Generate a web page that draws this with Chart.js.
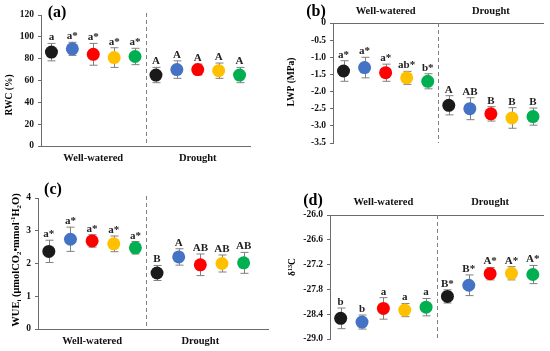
<!DOCTYPE html>
<html>
<head>
<meta charset="utf-8">
<script src="https://cdn.jsdelivr.net/npm/chart.js@4/dist/chart.umd.min.js"></script>
<style>
    body { margin: 0; background: #fff; }
    #wrap { position: relative; width: 550px; height: 351px; }
    canvas { position: absolute; }
</style>
</head>
<body>
<div id="wrap">
    <canvas id="panelA" width="275" height="175" style="left:0;top:0"></canvas>
    <canvas id="panelB" width="275" height="175" style="left:275px;top:0"></canvas>
    <canvas id="panelC" width="275" height="176" style="left:0;top:175px"></canvas>
    <canvas id="panelD" width="275" height="176" style="left:275px;top:175px"></canvas>
</div>
<script>
var groups = ['Well-watered', 'Drought'];

// five treatments under well-watered, then the same five under drought
var rwcMean = [86, 89, 84, 81, 82, 65, 70, 70, 69, 65];
var rwcErr = [8, 6, 10, 9, 7.5, 7, 8, 5, 7, 7];
var rwcSig = ['a', 'a*', 'a*', 'a*', 'a*', 'A', 'A', 'A', 'A', 'A'];

var lwpMean = [-1.4, -1.3, -1.45, -1.6, -1.7, -2.4, -2.5, -2.65, -2.77, -2.73];
var lwpErr = [0.3, 0.3, 0.25, 0.19, 0.22, 0.28, 0.32, 0.21, 0.3, 0.25];
var lwpSig = ['a*', 'a*', 'a*', 'ab*', 'b*', 'A', 'AB', 'B', 'B', 'B'];

var wueMean = [2.37, 2.74, 2.69, 2.6, 2.48, 1.71, 2.2, 1.96, 2.0, 2.02];
var wueErr = [0.34, 0.37, 0.19, 0.24, 0.19, 0.23, 0.25, 0.33, 0.26, 0.32];
var wueSig = ['a*', 'a*', 'a*', 'a*', 'a*', 'B', 'A', 'AB', 'AB', 'AB'];

var d13cMean = [-28.5, -28.59, -28.26, -28.3, -28.23, -27.97, -27.7, -27.42, -27.41, -27.44];
var d13cErr = [0.25, 0.17, 0.26, 0.16, 0.21, 0.16, 0.25, 0.15, 0.16, 0.22];
var d13cSig = ['b', 'b', 'a', 'a', 'a', 'B*', 'B*', 'A*', 'A*', 'A*'];

var dotColors = ['#1a1a1a', '#4472c4', '#ff0000', '#ffc000', '#00b050'];
var axisColor = '#6b6b6b';
var barColor = '#808080';
var serif = '"Liberation Serif", "Times New Roman", serif';

// draws text made of normal / sub / sup pieces, centred on (0,0)
function drawRich(ctx, parts, size) {
    var total = 0;
    parts.forEach(function (p) {
        ctx.font = 'bold ' + (p[1] ? size * 0.65 : size) + 'px ' + serif;
        total += ctx.measureText(p[0]).width;
    });
    var x = -total / 2;
    parts.forEach(function (p) {
        var s = p[1] ? size * 0.65 : size;
        ctx.font = 'bold ' + s + 'px ' + serif;
        var dy = p[1] === 1 ? size * 0.25 : (p[1] === 2 ? -size * 0.38 : 0);
        ctx.fillText(p[0], x, size * 0.35 + dy);
        x += ctx.measureText(p[0]).width;
    });
}

function makePanel(id, opt) {
    var ctx = document.getElementById(id).getContext('2d');
    var pts = opt.mean.map(function (v, i) { return { x: i + 0.5, y: v }; });

    var panelPlugin = {
        id: 'panelDecor',
        beforeDatasetsDraw: function (chart) {
            var c = chart.ctx, xs = chart.scales.x, ys = chart.scales.y, area = chart.chartArea;
            c.save();
            // divider between the two water regimes
            c.strokeStyle = barColor;
            c.lineWidth = 1;
            c.setLineDash([4, 3]);
            var xm = Math.round(xs.getPixelForValue(5)) + 0.5;
            c.beginPath();
            c.moveTo(xm, area.top - opt.dashUp);
            c.lineTo(xm, area.bottom);
            c.stroke();
            c.setLineDash([]);
            // error bars
            opt.mean.forEach(function (v, i) {
                var x = Math.round(xs.getPixelForValue(i + 0.5)) + 0.5;
                var yt = ys.getPixelForValue(v + opt.err[i]);
                var yb = ys.getPixelForValue(v - opt.err[i]);
                c.beginPath();
                c.moveTo(x, yt); c.lineTo(x, yb);
                c.moveTo(x - 4, yt); c.lineTo(x + 4, yt);
                c.moveTo(x - 4, yb); c.lineTo(x + 4, yb);
                c.stroke();
            });
            c.restore();
        },
        afterDatasetsDraw: function (chart) {
            var c = chart.ctx, xs = chart.scales.x, ys = chart.scales.y;
            c.save();
            c.fillStyle = '#222';
            c.font = 'bold 11px ' + serif;
            c.textAlign = 'center';
            c.textBaseline = 'alphabetic';
            opt.mean.forEach(function (v, i) {
                var x = xs.getPixelForValue(i + 0.5);
                var yt = ys.getPixelForValue(v + opt.err[i]);
                c.fillText(opt.sig[i], x, yt - 3);
            });
            c.restore();
        },
        afterDraw: function (chart) {
            var c = chart.ctx;
            c.save();
            c.fillStyle = '#000';
            c.textAlign = 'center';
            c.textBaseline = 'middle';
            c.font = 'bold 16px ' + serif;
            c.fillText(opt.tag, opt.tagX, opt.tagY);
            c.textBaseline = 'alphabetic';
            c.textAlign = 'left';
            c.translate(opt.titleX, opt.titleY);
            c.rotate(-Math.PI / 2);
            drawRich(c, opt.title, opt.titleSize);
            c.restore();
        }
    };

    return new Chart(ctx, {
        type: 'scatter',
        data: {
            datasets: [{
                data: pts,
                pointRadius: 6.5,
                pointHoverRadius: 6.5,
                pointBorderWidth: 0,
                pointBackgroundColor: opt.mean.map(function (v, i) { return dotColors[i % 5]; })
            }]
        },
        options: {
            responsive: false,
            animation: false,
            events: [],
            layout: { padding: opt.pad },
            plugins: {
                legend: { display: false },
                tooltip: { enabled: false }
            },
            scales: {
                x: {
                    type: 'linear',
                    position: opt.xPos,
                    min: 0,
                    max: opt.xMax,
                    afterFit: function (s) { s.height = opt.xH; },
                    afterBuildTicks: function (s) { s.ticks = [{ value: 2.5 }, { value: 7.5 }]; },
                    grid: { display: false, drawTicks: false },
                    border: { display: true, color: axisColor, width: 1 },
                    ticks: {
                        autoSkip: false,
                        maxRotation: 0,
                        padding: opt.xPad,
                        color: '#111',
                        font: { family: serif, size: 10.5, weight: 'bold' },
                        callback: function (v) { return v < 5 ? groups[0] : groups[1]; }
                    }
                },
                y: {
                    min: opt.yMin,
                    max: opt.yMax,
                    afterFit: function (s) { s.width = opt.yW; },
                    grid: { drawOnChartArea: false, tickLength: 3, color: axisColor },
                    border: { color: axisColor, width: 1 },
                    ticks: {
                        stepSize: opt.yStep,
                        padding: 4,
                        color: '#111',
                        font: { family: serif, size: 9.5, weight: 'bold' }
                    }
                }
            }
        },
        plugins: [panelPlugin]
    });
}

document.addEventListener('DOMContentLoaded', function () {
    makePanel('panelA', {
        mean: rwcMean, err: rwcErr, sig: rwcSig,
        yMin: 0, yMax: 120, yStep: 20,
        xPos: 'bottom', xMax: 10, xH: 29, xPad: 6, yW: 41,
        pad: { left: 0, right: 25, top: 15, bottom: 0 },
        dashUp: 2,
        tag: '(a)', tagX: 57, tagY: 13,
        title: [['RWC (%)', 0]], titleX: 9, titleY: 95, titleSize: 9.5
    });
    makePanel('panelB', {
        mean: lwpMean, err: lwpErr, sig: lwpSig,
        yMin: -3.5, yMax: 0, yStep: 0.5,
        xPos: 'top', xMax: 10, xH: 23, xPad: 5, yW: 58,
        pad: { left: 0, right: 5, top: 0, bottom: 32 },
        dashUp: 0,
        tag: '(b)', tagX: 41, tagY: 12,
        title: [['LWP (MPa)', 0]], titleX: 16, titleY: 82, titleSize: 9.5
    });
    makePanel('panelC', {
        mean: wueMean, err: wueErr, sig: wueSig,
        yMin: 0, yMax: 4, yStep: 1,
        xPos: 'bottom', xMax: 10.65, xH: 22, xPad: 6, yW: 38,
        pad: { left: 0, right: 5, top: 23, bottom: 0 },
        dashUp: 2,
        tag: '(c)', tagX: 53, tagY: 15,
        title: [['WUE', 0], ['i', 1], [' (\u03bcmolCO', 0], ['2', 1], ['\u2022mmol', 0], ['-1', 2], ['H', 0], ['2', 1], ['O)', 0]],
        titleX: 15, titleY: 85, titleSize: 10.5
    });
    makePanel('panelD', {
        mean: d13cMean, err: d13cErr, sig: d13cSig,
        yMin: -29, yMax: -26, yStep: 0.6,
        xPos: 'top', xMax: 10, xH: 40, xPad: 6, yW: 55,
        pad: { left: 0, right: 5, top: 0, bottom: 12 },
        dashUp: 0,
        tag: '(d)', tagX: 38, tagY: 26,
        title: [['\u03b4', 0], ['13', 2], ['C', 0]], titleX: 17, titleY: 92, titleSize: 9.5
    });
});
</script>
</body>
</html>
